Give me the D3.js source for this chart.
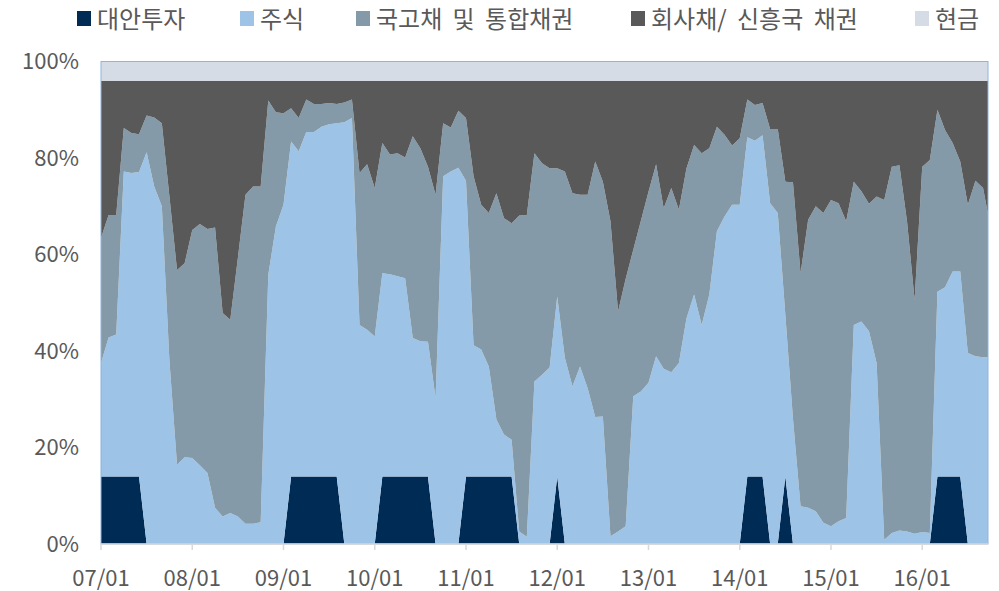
<!DOCTYPE html>
<html>
<head>
<meta charset="utf-8">
<script src="https://d3js.org/d3.v7.min.js"></script>
<style>
  body { margin: 0; background: #fff; }
  text { font-family: "Noto Sans CJK KR", "Noto Sans", sans-serif; fill: #595959; }
</style>
</head>
<body>
<script>
// monthly allocation (%), 2007/01 .. 2016/10
var alt = [14,14,14,14,14,14,0,0,0,0,0,0,0,0,0,0,0,0,0,0,0,0,0,0,0,14,14,14,14,14,
           14,14,0,0,0,0,0,14,14,14,14,14,14,14,0,0,0,0,14,14,14,14,14,14,14,0,0,0,0,0,
           14,0,0,0,0,0,0,0,0,0,0,0,0,0,0,0,0,0,0,0,0,0,0,0,0,14,14,14,0,0,
           14,0,0,0,0,0,0,0,0,0,0,0,0,0,0,0,0,0,0,0,14,14,14,14,0,0,0,0];
var stock = [23.5,28.8,29.4,63.2,62.9,63.1,81.2,74.1,70.0,38,16.4,18.0,17.8,16.3,14.7,7.5,5.7,6.4,5.7,4.2,
             4.2,4.5,55.8,65.8,70.3,69.4,67.4,71.4,71.4,72.5,73.0,73.2,87.4,88.3,45.4,44.4,43.0,42.1,41.9,41.5,
             41.1,28.7,28.0,27.9,30.2,76.2,77.2,78.0,61.3,27.2,26.3,22.8,11.8,8.7,7.6,2.6,1.5,33.7,35.1,36.6,
             37.3,38.6,32.7,36.8,32.3,26.3,26.4,1.6,2.6,3.7,30.6,31.6,33.4,38.9,36.3,35.6,37.5,46.8,51.7,45.4,
             51.7,64.8,67.9,70.3,70.3,70.3,69.6,70.7,70.6,68.6,33.5,26,7.8,7.5,6.8,4.4,3.7,4.7,5.4,45.4,
             46.1,44.1,37.5,0.9,2.3,2.8,2.6,2.1,2.5,2.3,38.3,39.2,42.5,42.5,39.6,38.9,38.7,38.7];
var govt = [25.9,25.4,24.8,9.0,8.3,7.8,7.6,14.3,17.2,34,40.4,40.2,47.3,50.0,50.6,58.1,42.2,40.1,53.6,68.2,
            69.9,69.6,36.1,23.7,19.0,6.9,6.9,6.7,5.8,4.7,4.4,4.0,4.1,3.8,31.5,34.3,30.8,27.0,24.8,25.5,
            25.0,41.8,40.0,36.3,42.2,11.0,9.1,11.8,13.0,35.0,30.0,31.8,46.9,44.8,44.9,65.5,66.7,47.3,43.8,41.3,
            26.6,38.6,40.0,35.6,40.1,53.0,48.7,65.3,45.6,51.3,30.4,35.4,39.6,39.8,33.3,38.2,31.8,31.1,31.0,35.6,
            30.3,21.7,16.9,12.3,13.8,7.8,7.4,6.7,15.4,17.4,27.6,49.0,48.3,59.7,63.2,64.2,67.6,65.9,61.5,29.7,
            27.0,26.4,34.5,70.4,75.9,75.7,64.3,48.5,75.7,77.3,37.7,32.6,26.6,22.8,30.7,36.4,35.1,26.8];
var corp = [32.6,27.8,27.8,9.8,10.8,11.1,7.2,7.6,8.8,24,39.2,37.8,30.9,29.7,30.7,30.4,48.1,49.5,36.7,23.6,
            21.9,21.9,4.1,6.5,6.7,5.7,7.7,3.9,4.8,4.8,4.6,4.8,4.5,3.9,19.1,17.3,22.2,12.9,15.3,15.0,
            15.9,11.5,14.0,17.8,23.6,8.8,9.7,6.2,7.7,19.8,25.7,27.4,23.3,28.5,29.5,27.9,27.8,15.0,17.1,18.1,
            18.1,18.8,23.3,23.6,23.6,16.7,20.9,29.1,47.8,41,35,29,23,17.3,26.4,22.2,26.7,18.1,13.3,15.0,
            14.0,9.5,11.2,13.4,11.9,3.9,5.0,4.6,10.0,10.0,20.9,21.0,39.9,28.8,26.0,27.4,24.7,25.4,29.1,20.9,
            22.9,25.5,24.0,24.7,17.8,17.5,29.1,45.4,17.8,16.4,6.0,10.2,12.9,16.7,25.7,20.7,22.2,30.5];
var cash = alt.map(function () { return 4; });

var seriesNames = ["대안투자", "주식", "국고채 및 통합채권", "회사채/ 신흥국 채권", "현금"];
var colors = ["#002b55", "#9dc3e6", "#849aa9", "#595959", "#d6dce5"];
var yearLabels = ["07/01","08/01","09/01","10/01","11/01","12/01","13/01","14/01","15/01","16/01"];
var yTicks = [0, 20, 40, 60, 80, 100];
var axisEnd = 116.65; // last month shown (mid 2016/09)

var W = 999, H = 591;
var mLeft = 101, mRight = 988, mTop = 61.5, mBottom = 544;

var svg = d3.select("body").append("svg").attr("width", W).attr("height", H);

var x = d3.scaleLinear().domain([0, axisEnd]).range([mLeft, mRight]);
var y = d3.scaleLinear().domain([0, 100]).range([mBottom, mTop]);

var rows = alt.map(function (d, i) {
  return { i: i, alt: alt[i], stock: stock[i], govt: govt[i], corp: corp[i], cash: cash[i] };
});
var keys = ["alt", "stock", "govt", "corp", "cash"];
var stacked = d3.stack().keys(keys)(rows);

svg.append("clipPath").attr("id", "plot")
  .append("rect").attr("x", mLeft).attr("y", mTop).attr("width", mRight - mLeft).attr("height", mBottom - mTop);

var area = d3.area()
  .x(function (d) { return x(d.data.i); })
  .y0(function (d) { return y(d[0]); })
  .y1(function (d) { return y(d[1]); });

svg.append("g").attr("clip-path", "url(#plot)")
  .selectAll("path").data(stacked).enter().append("path")
  .attr("d", area)
  .attr("fill", function (d, i) { return colors[i]; });

// plot border
svg.append("rect").attr("x", mLeft).attr("y", mTop)
  .attr("width", mRight - mLeft).attr("height", mBottom - mTop)
  .attr("fill", "none").attr("stroke", "#8fb4e0").attr("stroke-width", 1);

// x axis
var xa = svg.append("g").attr("transform", "translate(0," + mBottom + ")");
xa.append("line").attr("x1", mLeft).attr("x2", mRight).attr("stroke", "#d9d9d9").attr("stroke-width", 1.5);
xa.selectAll("line.tick").data(yearLabels).enter().append("line")
  .attr("class", "tick")
  .attr("x1", function (d, i) { return x(i * 12); })
  .attr("x2", function (d, i) { return x(i * 12); })
  .attr("y1", 0).attr("y2", 6)
  .attr("stroke", "#d9d9d9").attr("stroke-width", 1.5);
xa.selectAll("text").data(yearLabels).enter().append("text")
  .attr("x", function (d, i) { return x(i * 12); })
  .attr("y", 42)
  .attr("text-anchor", "middle")
  .style("font-size", "22px")
  .text(function (d) { return d; });

// y labels
svg.append("g").selectAll("text").data(yTicks).enter().append("text")
  .attr("x", 79)
  .attr("y", function (d) { return y(d); })
  .attr("dy", "0.36em")
  .attr("text-anchor", "end")
  .style("font-size", "22px")
  .text(function (d) { return d + "%"; });

// legend
var legendX = [77, 240, 356, 631, 915];
var lg = svg.append("g").selectAll("g").data(seriesNames).enter().append("g")
  .attr("transform", function (d, i) { return "translate(" + legendX[i] + ",0)"; });
lg.append("rect").attr("x", 0).attr("y", 11).attr("width", 14).attr("height", 15)
  .attr("fill", function (d, i) { return colors[i]; });
lg.append("text").attr("x", 20).attr("y", 28)
  .style("font-size", "24px")
  .style("word-spacing", "5px")
  .text(function (d) { return d; });
</script>
</body>
</html>
